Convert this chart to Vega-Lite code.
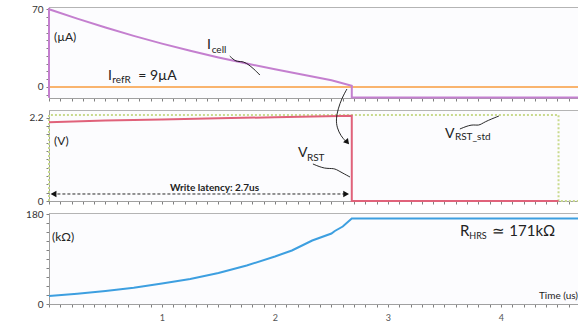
{
  "$schema": "https://vega.github.io/schema/vega-lite/v6.json",
  "autosize": {"type": "pad"},
  "padding": {"left": 25, "top": 3, "right": 0, "bottom": 0},
  "background": "white",
  "spacing": 12,
  "bounds": "flush",
  "config": {
    "view": {"fill": "#fcfcfe", "stroke": "#b4b4b4", "strokeWidth": 1},
    "axis": {"grid": false, "title": null, "labelFont": "Lato", "labelFontSize": 10, "labelColor": "#333333", "domainColor": "#a0a0a0", "tickColor": "#808080", "tickSize": 3, "labelPadding": 3},
    "text": {"font": "Lato", "color": "#222222"},
    "line": {"strokeCap": "butt"}
  },
  "datasets": {
    "icell": [
      {"i": 0, "t": 0, "v": -9.8}, {"i": 1, "t": 0, "v": 70}, {"i": 2, "t": 0.25, "v": 61.5}, {"i": 3, "t": 0.5, "v": 53.5}, {"i": 4, "t": 0.75, "v": 46},
      {"i": 5, "t": 1.0, "v": 39}, {"i": 6, "t": 1.25, "v": 32.5}, {"i": 7, "t": 1.5, "v": 26.5}, {"i": 8, "t": 1.75, "v": 21},
      {"i": 9, "t": 2.0, "v": 16}, {"i": 10, "t": 2.25, "v": 11}, {"i": 11, "t": 2.5, "v": 6}, {"i": 12, "t": 2.68, "v": 1},
      {"i": 13, "t": 2.68, "v": -9.5}, {"i": 14, "t": 4.7, "v": -9.5}
    ],
    "iref": [{"t": 0, "v": 0}, {"t": 4.7, "v": 0}],
    "vrst": [
      {"i": 0, "t": 0, "v": 2.08}, {"i": 1, "t": 0.5, "v": 2.12}, {"i": 2, "t": 1.0, "v": 2.15}, {"i": 3, "t": 1.5, "v": 2.18},
      {"i": 4, "t": 2.0, "v": 2.21}, {"i": 5, "t": 2.68, "v": 2.25}, {"i": 6, "t": 2.68, "v": 0}, {"i": 7, "t": 4.51, "v": 0}
    ],
    "vstd": [
      {"i": 0, "t": 0, "v": 0}, {"i": 1, "t": 0, "v": 2.27}, {"i": 2, "t": 4.51, "v": 2.27}, {"i": 3, "t": 4.51, "v": 0}, {"i": 4, "t": 4.7, "v": 0}
    ],
    "rhrs": [
      {"t": 0, "v": 16}, {"t": 0.25, "v": 20.5}, {"t": 0.5, "v": 26}, {"t": 0.75, "v": 32.5}, {"t": 1.0, "v": 41},
      {"t": 1.25, "v": 50}, {"t": 1.5, "v": 62}, {"t": 1.75, "v": 77}, {"t": 2.0, "v": 95}, {"t": 2.15, "v": 107},
      {"t": 2.33, "v": 127}, {"t": 2.5, "v": 141}, {"t": 2.53, "v": 146}, {"t": 2.6, "v": 155}, {"t": 2.68, "v": 171}, {"t": 4.7, "v": 171}
    ]
  },
  "vconcat": [
    {
      "width": 531, "height": 91,
      "encoding": {
        "x": {"field": "t", "type": "quantitative", "scale": {"domain": [0, 4.7]},
              "axis": {"values": [0,0.1,0.2,0.3,0.4,0.5,0.6,0.7,0.8,0.9,1,1.1,1.2,1.3,1.4,1.5,1.6,1.7,1.8,1.9,2,2.1,2.2,2.3,2.4,2.5,2.6,2.7,2.8,2.9,3,3.1,3.2,3.3,3.4,3.5,3.6,3.7,3.8,3.9,4,4.1,4.2,4.3,4.4,4.5,4.6], "labels": false}},
        "y": {"field": "v", "type": "quantitative", "scale": {"domain": [-10, 72]},
              "axis": {"values": [-7,0,7,14,21,28,35,42,49,56,63,70], "labelExpr": "datum.value == 0 ? '0' : datum.value == 70 ? '70' : ''"}}
      },
      "layer": [
        {"data": {"name": "iref"}, "mark": {"type": "line", "color": "#f9b46e", "strokeWidth": 2}},
        {"data": {"name": "icell"}, "mark": {"type": "line", "color": "#c47fcf", "strokeWidth": 2}, "encoding": {"order": {"field": "i"}}},
        {"data": {"values": [{"t": 1.60, "v": 27.8}, {"t": 1.655, "v": 22.4}, {"t": 1.708, "v": 23.3}, {"t": 1.761, "v": 20.6}, {"t": 1.814, "v": 16.1}, {"t": 1.867, "v": 10.7}]},
         "mark": {"type": "line", "color": "#111111", "strokeWidth": 0.9, "interpolate": "basis"}},
        {"data": {"values": [{"t": 0.044, "v": 45, "s": "(µA)"}]}, "mark": {"type": "text", "align": "left", "baseline": "middle", "fontSize": 12}, "encoding": {"text": {"field": "s"}}},
        {"data": {"values": [{"t": 1.398, "v": 37.5, "s": "I"}, {"t": 0.522, "v": 10, "s": "I"}, {"t": 0.79, "v": 10, "s": "= 9µA"}]}, "mark": {"type": "text", "align": "left", "baseline": "middle", "fontSize": 14}, "encoding": {"text": {"field": "s"}}},
        {"data": {"values": [{"t": 1.44, "v": 33, "s": "cell"}, {"t": 0.56, "v": 6, "s": "refR"}]}, "mark": {"type": "text", "align": "left", "baseline": "middle", "fontSize": 10}, "encoding": {"text": {"field": "s"}}}
      ]
    },
    {
      "width": 531, "height": 91,
      "encoding": {
        "x": {"field": "t", "type": "quantitative", "scale": {"domain": [0, 4.7]},
              "axis": {"values": [0,0.1,0.2,0.3,0.4,0.5,0.6,0.7,0.8,0.9,1,1.1,1.2,1.3,1.4,1.5,1.6,1.7,1.8,1.9,2,2.1,2.2,2.3,2.4,2.5,2.6,2.7,2.8,2.9,3,3.1,3.2,3.3,3.4,3.5,3.6,3.7,3.8,3.9,4,4.1,4.2,4.3,4.4,4.5,4.6], "labels": false}},
        "y": {"field": "v", "type": "quantitative", "scale": {"domain": [0, 2.4]},
              "axis": {"values": [0,0.22,0.44,0.66,0.88,1.1,1.32,1.54,1.76,1.98,2.2], "labelExpr": "datum.value == 0 ? '0' : datum.value == 2.2 ? '2.2' : ''"}}
      },
      "layer": [
        {"data": {"name": "vstd"}, "mark": {"type": "line", "color": "#c9da8e", "strokeWidth": 2, "strokeDash": [2, 2]}, "encoding": {"order": {"field": "i"}}},
        {"data": {"name": "vrst"}, "mark": {"type": "line", "color": "#e0627a", "strokeWidth": 2}, "encoding": {"order": {"field": "i"}}},
        {"data": {"values": [{"t": 0.03, "v": 0.185}, {"t": 2.64, "v": 0.185}]}, "mark": {"type": "line", "color": "#111111", "strokeWidth": 0.9, "strokeDash": [3, 2]}},
        {"data": {"values": [{"t": 0.04, "v": 0.185, "s": "l"}]}, "mark": {"type": "point", "shape": "triangle-left", "filled": true, "color": "#111111", "size": 45, "opacity": 1}},
        {"data": {"values": [{"t": 2.63, "v": 0.185, "s": "r"}]}, "mark": {"type": "point", "shape": "triangle-right", "filled": true, "color": "#111111", "size": 45, "opacity": 1}},
        {"data": {"values": [{"t": 2.336, "v": 0.976}, {"t": 2.442, "v": 0.844}, {"t": 2.522, "v": 0.87}, {"t": 2.566, "v": 0.791}, {"t": 2.664, "v": 0.633}]},
         "mark": {"type": "line", "color": "#111111", "strokeWidth": 0.9, "interpolate": "basis"}},
        {"data": {"values": [{"t": 3.637, "v": 1.899}, {"t": 3.743, "v": 2.03}, {"t": 3.805, "v": 1.978}, {"t": 3.85, "v": 2.083}, {"t": 3.982, "v": 2.241}]},
         "mark": {"type": "line", "color": "#111111", "strokeWidth": 0.9, "interpolate": "basis"}},
        {"data": {"values": [{"i": 0, "t": 2.637, "v": 2.953}, {"i": 1, "t": 2.593, "v": 2.716}, {"i": 2, "t": 2.558, "v": 2.426}, {"i": 3, "t": 2.54, "v": 2.162}, {"i": 4, "t": 2.549, "v": 1.925}, {"i": 5, "t": 2.584, "v": 1.714}, {"i": 6, "t": 2.625, "v": 1.58}]},
         "mark": {"type": "line", "color": "#111111", "strokeWidth": 0.9, "interpolate": "basis"}, "encoding": {"order": {"field": "i"}}},
        {"data": {"values": [{"t": 2.64, "v": 1.55}]}, "mark": {"type": "point", "shape": "triangle-down", "angle": -40, "filled": true, "color": "#111111", "size": 40, "opacity": 1}},
        {"data": {"values": [{"t": 0.044, "v": 1.58, "s": "(V)"}]}, "mark": {"type": "text", "align": "left", "baseline": "middle", "fontSize": 12}, "encoding": {"text": {"field": "s"}}},
        {"data": {"values": [{"t": 1.071, "v": 0.35, "s": "Write latency: 2.7us"}]}, "mark": {"type": "text", "align": "left", "baseline": "middle", "fontSize": 10, "fontWeight": "bold"}, "encoding": {"text": {"field": "s"}}},
        {"data": {"values": [{"t": 2.204, "v": 1.266, "s": "V"}, {"t": 3.504, "v": 1.767, "s": "V"}]}, "mark": {"type": "text", "align": "left", "baseline": "middle", "fontSize": 14}, "encoding": {"text": {"field": "s"}}},
        {"data": {"values": [{"t": 2.283, "v": 1.134, "s": "RST"}, {"t": 3.593, "v": 1.688, "s": "RST_std"}]}, "mark": {"type": "text", "align": "left", "baseline": "middle", "fontSize": 10}, "encoding": {"text": {"field": "s"}}}
      ]
    },
    {
      "width": 531, "height": 91,
      "encoding": {
        "x": {"field": "t", "type": "quantitative", "scale": {"domain": [0, 4.7]},
              "axis": {"values": [0,0.1,0.2,0.3,0.4,0.5,0.6,0.7,0.8,0.9,1,1.1,1.2,1.3,1.4,1.5,1.6,1.7,1.8,1.9,2,2.1,2.2,2.3,2.4,2.5,2.6,2.7,2.8,2.9,3,3.1,3.2,3.3,3.4,3.5,3.6,3.7,3.8,3.9,4,4.1,4.2,4.3,4.4,4.5,4.6], "labelExpr": "datum.value == 1 ? '1' : datum.value == 2 ? '2' : datum.value == 3 ? '3' : datum.value == 4 ? '4' : ''", "labelFontSize": 9, "labelColor": "#555555", "labelPadding": 6}},
        "y": {"field": "v", "type": "quantitative", "scale": {"domain": [0, 182]},
              "axis": {"values": [0,18,36,54,72,90,108,126,144,162,180], "labelExpr": "datum.value == 0 ? '0' : datum.value == 180 ? '180' : ''"}}
      },
      "layer": [
        {"data": {"name": "rhrs"}, "mark": {"type": "line", "color": "#3d9fe0", "strokeWidth": 2}},
        {"data": {"values": [{"t": 0.027, "v": 134, "s": "(kΩ)"}]}, "mark": {"type": "text", "align": "left", "baseline": "middle", "fontSize": 12}, "encoding": {"text": {"field": "s"}}},
        {"data": {"values": [{"t": 3.637, "v": 146, "s": "R"}, {"t": 3.925, "v": 146, "s": "≃ 171kΩ"}]}, "mark": {"type": "text", "align": "left", "baseline": "middle", "fontSize": 15}, "encoding": {"text": {"field": "s"}}},
        {"data": {"values": [{"t": 3.72, "v": 136, "s": "HRS"}]}, "mark": {"type": "text", "align": "left", "baseline": "middle", "fontSize": 9}, "encoding": {"text": {"field": "s"}}},
        {"data": {"values": [{"t": 4.336, "v": 16, "s": "Time (us)"}]}, "mark": {"type": "text", "align": "left", "baseline": "middle", "fontSize": 10}, "encoding": {"text": {"field": "s"}}}
      ]
    }
  ]
}
